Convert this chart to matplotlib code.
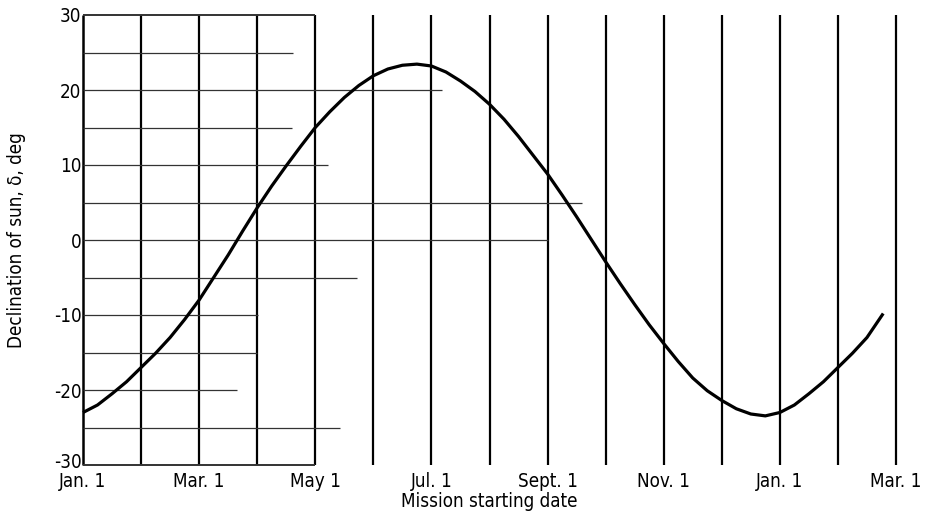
import matplotlib
matplotlib.use("Agg")
import matplotlib.pyplot as plt
import matplotlib.transforms as mtransforms

plt.rcParams['font.family'] = ['DejaVu Sans']
plt.rcParams['font.stretch'] = 'condensed'

# Data (x in months after Jan. 1)
months = [0, 0.25, 0.5, 0.75, 1.0, 1.25, 1.5, 1.75, 2.0, 2.25, 2.5, 2.75, 3.0, 3.25,
          3.5, 3.75, 4.0, 4.25, 4.5, 4.75, 5.0, 5.25, 5.5, 5.75, 6.0, 6.25, 6.5, 6.75,
          7.0, 7.25, 7.5, 7.75, 8.0, 8.25, 8.5, 8.75, 9.0, 9.25, 9.5, 9.75, 10.0,
          10.25, 10.5, 10.75, 11.0, 11.25, 11.5, 11.75, 12.0, 12.25, 12.5, 12.75,
          13.0, 13.25, 13.5, 13.78]
declination = [-23.0, -22.0, -20.5, -18.9, -17.0, -15.1, -13.0, -10.6, -8.0, -5.0,
               -2.0, 1.2, 4.3, 7.2, 9.9, 12.5, 15.0, 17.1, 19.0, 20.6, 21.9, 22.8,
               23.3, 23.45, 23.2, 22.4, 21.2, 19.8, 18.1, 16.1, 13.8, 11.3, 8.8,
               6.0, 3.1, 0.1, -2.9, -5.8, -8.6, -11.3, -13.8, -16.2, -18.4, -20.1,
               -21.4, -22.5, -23.2, -23.45, -23.0, -22.0, -20.5, -18.9, -17.0,
               -15.1, -13.0, -9.8]

tick_months = [0, 2, 4, 6, 8, 10, 12, 14]
tick_labels = ["Jan. 1", "Mar. 1", "May 1", "Jul. 1", "Sept. 1", "Nov. 1", "Jan. 1", "Mar. 1"]
y_ticks = [-30, -20, -10, 0, 10, 20, 30]
y_tick_labels = ["-30", "-20", "-10", "0", "10", "20", "30"]

grid_months = list(range(1, 15))
hgrid_levels = [30, 25, 20, 15, 10, 5, 0, -5, -10, -15, -20, -25, -30]
hgrid_ends = [4.0, 3.62, 6.18, 3.6, 4.22, 8.59, 8.0, 4.72, 3.01, 3.0, 2.65, 4.43, 4.0]

fig = plt.figure(figsize=(9.34, 5.17), dpi=100)
ax = fig.add_axes([83/934, 1-465/517, 813/934, 450/517])
ax.set_xlim(0, 14)
ax.set_ylim(-30, 30)
for s in ax.spines.values():
    s.set_visible(False)

# vertical grid lines
ax.vlines(grid_months, -30, 30, colors='black', linewidth=1.6, clip_on=False)
ax.vlines([0], -30, 30, colors='black', linewidth=1.8, clip_on=False)
# horizontal grid lines of varying length
for lev, end in zip(hgrid_levels, hgrid_ends):
    lw = 1.4 if lev in (30, -30) else 0.9
    ax.hlines(lev, 0, end, colors='#333333', linewidth=lw, clip_on=False)

ax.plot(months, declination, color='black', linewidth=2.3, clip_on=False, zorder=5,
        solid_joinstyle='round', solid_capstyle='butt')

ax.set_xticks(tick_months)
ax.set_xticklabels(tick_labels, fontsize=13.5)
ax.set_yticks(y_ticks)
ax.set_yticklabels(y_tick_labels, fontsize=13.5)
ax.tick_params(axis='both', length=0)
ax.tick_params(axis='y', pad=1)
ax.tick_params(axis='x', pad=5)
ax.set_xlabel("Mission starting date", fontsize=13.5, labelpad=1)
ax.set_ylabel("Declination of sun, δ, deg", fontsize=13.5, labelpad=20)

# nudge the lowest y label up a little, as in the reference
lbl = ax.get_yticklabels()[0]
lbl.set_transform(lbl.get_transform() + mtransforms.ScaledTranslation(0, 3/72, fig.dpi_scale_trans))

fig.savefig("out.png", dpi=100)
